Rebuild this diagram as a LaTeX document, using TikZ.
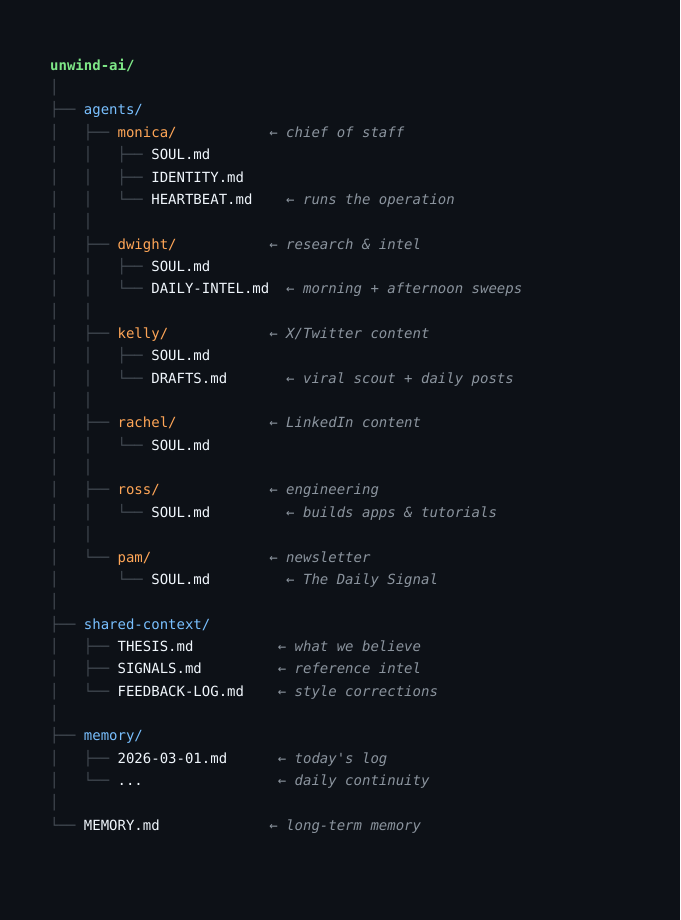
\documentclass[tikz,border=0pt]{standalone}
\usepackage{fontspec}
\newfontfamily\mono{DejaVu Sans Mono}
\definecolor{bgc}{HTML}{0D1117}
\definecolor{treec}{HTML}{454C55}
\definecolor{greenc}{HTML}{7EE787}
\definecolor{bluec}{HTML}{79C0FF}
\definecolor{orangec}{HTML}{FFA657}
\definecolor{filec}{HTML}{F0F6FC}
\definecolor{cmtc}{HTML}{8B949E}
\newcommand{\tr}[1]{{\color{treec}#1}}
\newcommand{\gn}[1]{{\color{greenc}\bfseries #1}}
\newcommand{\bl}[1]{{\color{bluec}#1}}
\newcommand{\og}[1]{{\color{orangec}#1}}
\newcommand{\fl}[1]{{\color{filec}#1}}
\tikzset{
  rowtext/.style={anchor=base west, inner sep=0pt, font=\mono\fontsize{14}{16}\selectfont},
  cmttext/.style={anchor=base west, inner sep=0pt, text=cmtc, font=\mono\itshape\fontsize{14}{16}\selectfont}
}
\newcommand{\trow}[2]{\node[rowtext] (r#1) at (50,{65+22.35*#1+5.3}) {#2};}
\newcommand{\cmt}[3]{\node[cmttext] (c#1) at ({50+#2*8.43},{65+22.35*#1+5.3}) {←~#3};}
\begin{document}
\begin{tikzpicture}[x=1pt,y=-1pt]
\fill[bgc] (0,0) rectangle (680,920);
\useasboundingbox (0,0) rectangle (680,920);
\trow{0}{\gn{unwind-ai/}}
\trow{1}{\tr{│}}
\trow{2}{\tr{├──~}\bl{agents/}}
\trow{3}{\tr{│~~~├──~}\og{monica/}}
\cmt{3}{26}{chief of staff}
\trow{4}{\tr{│~~~│~~~├──~}\fl{SOUL.md}}
\trow{5}{\tr{│~~~│~~~├──~}\fl{IDENTITY.md}}
\trow{6}{\tr{│~~~│~~~└──~}\fl{HEARTBEAT.md}}
\cmt{6}{28}{runs the operation}
\trow{7}{\tr{│~~~│}}
\trow{8}{\tr{│~~~├──~}\og{dwight/}}
\cmt{8}{26}{research \& intel}
\trow{9}{\tr{│~~~│~~~├──~}\fl{SOUL.md}}
\trow{10}{\tr{│~~~│~~~└──~}\fl{DAILY-INTEL.md}}
\cmt{10}{28}{morning + afternoon sweeps}
\trow{11}{\tr{│~~~│}}
\trow{12}{\tr{│~~~├──~}\og{kelly/}}
\cmt{12}{26}{X/Twitter content}
\trow{13}{\tr{│~~~│~~~├──~}\fl{SOUL.md}}
\trow{14}{\tr{│~~~│~~~└──~}\fl{DRAFTS.md}}
\cmt{14}{28}{viral scout + daily posts}
\trow{15}{\tr{│~~~│}}
\trow{16}{\tr{│~~~├──~}\og{rachel/}}
\cmt{16}{26}{LinkedIn content}
\trow{17}{\tr{│~~~│~~~└──~}\fl{SOUL.md}}
\trow{18}{\tr{│~~~│}}
\trow{19}{\tr{│~~~├──~}\og{ross/}}
\cmt{19}{26}{engineering}
\trow{20}{\tr{│~~~│~~~└──~}\fl{SOUL.md}}
\cmt{20}{28}{builds apps \& tutorials}
\trow{21}{\tr{│~~~│}}
\trow{22}{\tr{│~~~└──~}\og{pam/}}
\cmt{22}{26}{newsletter}
\trow{23}{\tr{│~~~~~~~└──~}\fl{SOUL.md}}
\cmt{23}{28}{The Daily Signal}
\trow{24}{\tr{│}}
\trow{25}{\tr{├──~}\bl{shared-context/}}
\trow{26}{\tr{│~~~├──~}\fl{THESIS.md}}
\cmt{26}{27}{what we believe}
\trow{27}{\tr{│~~~├──~}\fl{SIGNALS.md}}
\cmt{27}{27}{reference intel}
\trow{28}{\tr{│~~~└──~}\fl{FEEDBACK-LOG.md}}
\cmt{28}{27}{style corrections}
\trow{29}{\tr{│}}
\trow{30}{\tr{├──~}\bl{memory/}}
\trow{31}{\tr{│~~~├──~}\fl{2026-03-01.md}}
\cmt{31}{27}{today's log}
\trow{32}{\tr{│~~~└──~}\fl{...}}
\cmt{32}{27}{daily continuity}
\trow{33}{\tr{│}}
\trow{34}{\tr{└──~}\fl{MEMORY.md}}
\cmt{34}{26}{long-term memory}
\end{tikzpicture}
\end{document}
